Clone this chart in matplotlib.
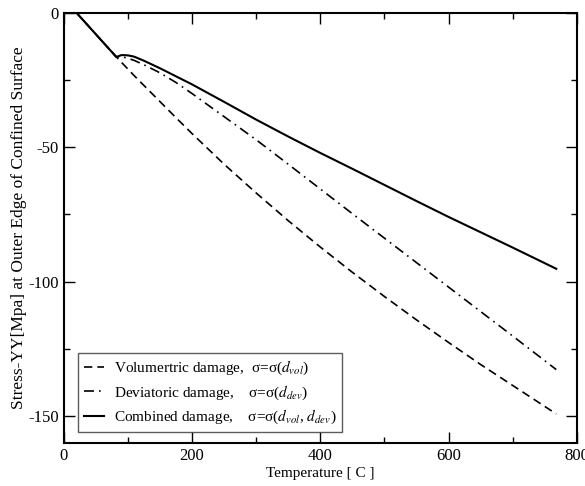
import matplotlib
matplotlib.use("Agg")
import matplotlib.pyplot as plt
from matplotlib.ticker import MultipleLocator

plt.rcParams['font.family'] = ['Liberation Serif', 'DejaVu Serif']
plt.rcParams['mathtext.fontset'] = 'stix'
plt.rcParams['axes.unicode_minus'] = False

# temperature [C]
temperature = [0, 20, 40, 60, 82, 90, 100, 110, 125, 150, 175, 200, 250, 300, 350,
               400, 450, 500, 550, 600, 650, 700, 768]

# stress-YY [MPa]
vol_damage = [0, 0, -5.3, -10.6, -16.4, -18.4, -20.9, -23.4, -27.0, -33.0, -39.0,
              -44.9, -56.3, -67.0, -77.3, -87.1, -96.5, -105.5, -114.2, -122.6,
              -130.8, -138.6, -149.2]
dev_damage = [0, 0, -5.3, -10.6, -16.4, -16.3, -16.9, -17.7, -19.3, -22.3, -25.9,
              -30.0, -38.6, -47.2, -56.3, -65.5, -74.7, -83.8, -92.9, -102.0,
              -111.1, -120.2, -132.7]
comb_damage = [0, 0, -5.3, -10.6, -16.4, -15.7, -15.8, -16.3, -17.8, -20.6, -23.6,
               -26.6, -33.1, -39.7, -46.0, -52.1, -58.0, -64.0, -70.0, -75.9,
               -81.6, -87.3, -95.2]

labels = [r'Volumertric damage,  σ=σ($d_{vol}$)',
          r'Deviatoric damage,    σ=σ($d_{dev}$)',
          r'Combined damage,    σ=σ($d_{vol}$, $d_{dev}$)']

fig = plt.figure(figsize=(5.85, 4.86), dpi=100)
ax = fig.add_axes([0.109, 0.0885, 0.877, 0.885])

ax.plot(temperature, vol_damage, color='black', lw=1.2, ls=(0, (5, 3)), label=labels[0])
ax.plot(temperature, dev_damage, color='black', lw=1.2, ls=(0, (6, 3, 1, 3)), label=labels[1])
ax.plot(temperature, comb_damage, color='black', lw=1.5, ls='-', label=labels[2])

ax.set_xlim(0, 800)
ax.set_ylim(-160, 0)
ax.xaxis.set_major_locator(MultipleLocator(200))
ax.xaxis.set_minor_locator(MultipleLocator(100))
ax.yaxis.set_major_locator(MultipleLocator(50))
ax.yaxis.set_minor_locator(MultipleLocator(25))
ax.tick_params(which='both', direction='in', top=True, right=True, labelsize=12, width=1)
ax.tick_params(which='major', length=8)
ax.tick_params(which='minor', length=4)
for sp in ax.spines.values():
    sp.set_linewidth(1.5)

ax.set_xlabel('Temperature [ C ]', fontsize=11, labelpad=2)
ax.set_ylabel('Stress-YY[Mpa] at Outer Edge of Confined Surface', fontsize=12.5, va='center')
ax.yaxis.set_label_coords(-0.088, 0.5)

leg = ax.legend(loc='lower left', bbox_to_anchor=(0.027, 0.025), borderaxespad=0,
                fontsize=11, frameon=True, fancybox=False, handlelength=1.3,
                handletextpad=0.65, labelspacing=0.4, borderpad=0.4)
leg.get_frame().set_edgecolor('#333333')
leg.get_frame().set_linewidth(1.0)

fig.savefig('out.png', dpi=100)
